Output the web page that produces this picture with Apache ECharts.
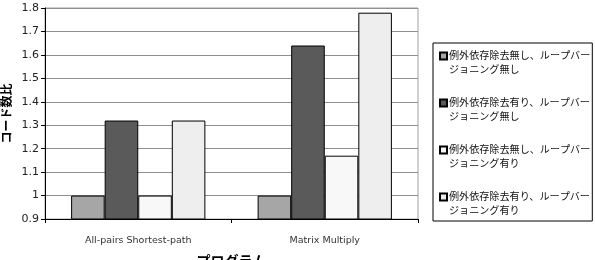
<!DOCTYPE html>
<html>
<head>
<meta charset="utf-8">
<script src="https://cdn.jsdelivr.net/npm/echarts@6/dist/echarts.min.js"></script>
<style>
  html, body { margin: 0; padding: 0; background: #fff; }
</style>
</head>
<body>
<div id="chart" style="width: 595px; height: 260px"></div>
<script>
var categories = ['All-pairs Shortest-path', 'Matrix Multiply']
var seriesNames = [
  '例外依存除去無し、ループバージョニング無し',
  '例外依存除去有り、ループバージョニング無し',
  '例外依存除去無し、ループバージョニング有り',
  '例外依存除去有り、ループバージョニング有り'
]
var noneNone = [1, 1]
var yesNone = [1.32, 1.64]
var noneYes = [1, 1.17]
var yesYes = [1.32, 1.78]
var yTicks = { min: 0.9, max: 1.8, step: 0.1 }

var colors = ['#a6a6a6', '#5a5a5a', '#f8f8f8', '#eeeeee']
var values = [noneNone, yesNone, noneYes, yesYes]

var myChart = echarts.init(document.getElementById('chart'))
myChart.setOption({
  animation: false,
  textStyle: { fontFamily: 'DejaVu Sans, Noto Sans CJK JP' },
  grid: {
    left: 45,
    right: 177,
    top: 8,
    bottom: 41,
    outerBoundsMode: 'none',
    containLabel: false,
    show: true,
    borderColor: '#a0a0a0',
    borderWidth: 1
  },
  legend: {
    orient: 'vertical',
    left: 433,
    top: 43,
    padding: [5, 2, 2, 6],
    itemGap: 17,
    itemWidth: 7,
    itemHeight: 28,
    borderColor: '#000',
    borderWidth: 1,
    // square sits on the first text line (box kept 28 high for two lines)
    icon: 'path://M0,0 M0,28 M0,3.5H7V10.5H0Z',
    data: seriesNames,
    formatter: function (name) {
      return name.slice(0, 14) + '\n' + name.slice(14)
    },
    textStyle: {
      fontSize: 10.1,
      lineHeight: 14,
      color: '#111',
      align: 'left',
      padding: [0, 0, 0, -3]
    }
  },
  xAxis: {
    type: 'category',
    data: categories,
    name: 'プログラム',
    nameLocation: 'middle',
    nameGap: 36,
    nameMoveOverlap: false,
    nameTextStyle: { fontSize: 14, fontWeight: 'bold', color: '#000' },
    axisLine: { lineStyle: { color: '#000', width: 1 } },
    axisTick: { show: true, length: 4, lineStyle: { color: '#000' } },
    axisLabel: { fontSize: 9.5, color: '#333', margin: 17 }
  },
  yAxis: {
    type: 'value',
    min: yTicks.min,
    max: yTicks.max,
    interval: yTicks.step,
    name: 'コード数比',
    nameLocation: 'middle',
    nameRotate: 90,
    nameGap: 31,
    nameMoveOverlap: false,
    nameTextStyle: { fontSize: 12, fontWeight: 'bold', color: '#000' },
    axisLine: { show: true, lineStyle: { color: '#000', width: 1 } },
    axisTick: { show: true, length: 4, lineStyle: { color: '#000' } },
    axisLabel: {
      fontSize: 11,
      color: '#222',
      margin: 6,
      formatter: function (v) { return +v.toFixed(1) + '' }
    },
    splitLine: { lineStyle: { color: '#909090', width: 1 } }
  },
  series: values.map(function (d, i) {
    return {
      name: seriesNames[i],
      type: 'bar',
      data: d,
      barGap: '0%',
      barCategoryGap: '28%',
      itemStyle: {
        color: colors[i],
        borderColor: '#000',
        borderWidth: 1
      }
    }
  })
})
</script>
</body>
</html>
